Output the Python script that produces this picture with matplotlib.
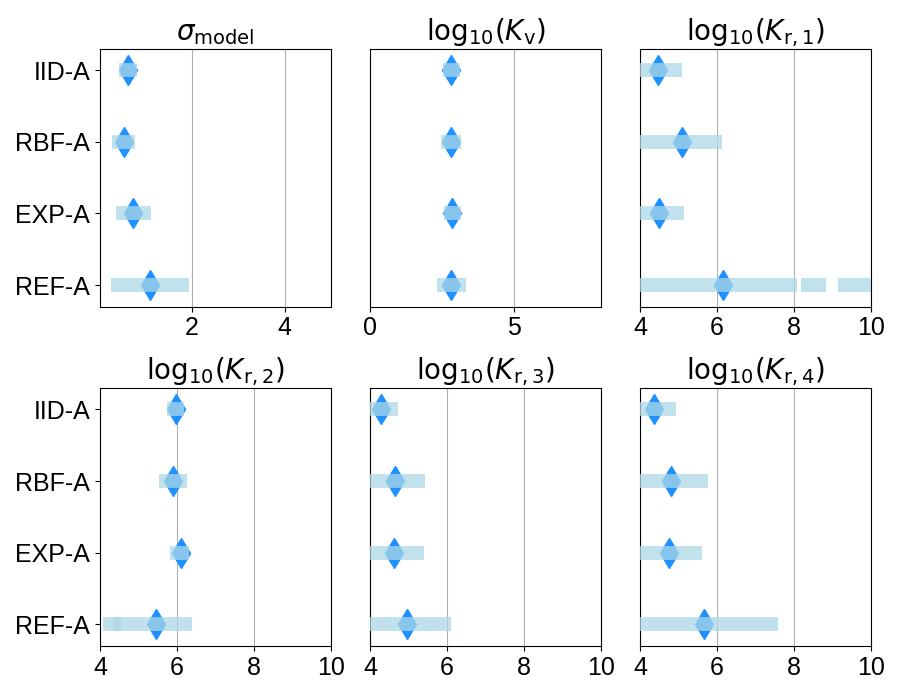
import matplotlib
matplotlib.use("Agg")
import matplotlib.pyplot as plt

# model labels, top to bottom
models = ["IID-A", "RBF-A", "EXP-A", "REF-A"]

titles = [
    r"$\sigma_\mathrm{model}$",
    r"$\mathrm{log}_{10}(K_\mathrm{v})$",
    r"$\mathrm{log}_{10}(K_{\mathrm{r},1})$",
    r"$\mathrm{log}_{10}(K_{\mathrm{r},2})$",
    r"$\mathrm{log}_{10}(K_{\mathrm{r},3})$",
    r"$\mathrm{log}_{10}(K_{\mathrm{r},4})$",
]

# medians (diamonds), one per model
med_sigma = [0.63, 0.54, 0.74, 1.10]
med_kv = [2.82, 2.81, 2.85, 2.82]
med_kr1 = [4.46, 5.10, 4.48, 6.14]
med_kr2 = [5.97, 5.91, 6.10, 5.46]
med_kr3 = [4.28, 4.64, 4.61, 4.97]
med_kr4 = [4.37, 4.81, 4.74, 5.67]

# credible intervals, possibly several segments per model
hdi_sigma = [[(0.43, 0.82)], [(0.29, 0.77)], [(0.37, 1.12)], [(0.26, 1.94)]]
hdi_kv = [[(2.54, 3.10)], [(2.47, 3.16)], [(2.57, 3.15)], [(2.33, 3.33)]]
hdi_kr1 = [[(3.6, 5.08)], [(3.4, 6.12)], [(3.6, 5.13)],
           [(3.0, 8.07), (8.18, 8.82), (9.14, 10.6)]]
hdi_kr2 = [[(5.75, 6.18)], [(5.53, 6.25)], [(5.82, 6.31)],
           [(4.08, 4.57), (4.34, 6.38)]]
hdi_kr3 = [[(3.8, 4.73)], [(3.7, 5.43)], [(3.7, 5.40)], [(3.5, 6.10)]]
hdi_kr4 = [[(3.8, 4.93)], [(3.7, 5.77)], [(3.7, 5.61)], [(3.5, 7.58)]]

medians = [med_sigma, med_kv, med_kr1, med_kr2, med_kr3, med_kr4]
hdis = [hdi_sigma, hdi_kv, hdi_kr1, hdi_kr2, hdi_kr3, hdi_kr4]
xlims = [(0.02, 5), (0, 8), (4, 10), (4, 10), (4, 10), (4, 10)]
xticks = [[2, 4], [0, 5], [4, 6, 8, 10], [4, 6, 8, 10], [4, 6, 8, 10], [4, 6, 8, 10]]

plt.rcParams["font.family"] = ["Liberation Sans", "DejaVu Sans"]
plt.rcParams["mathtext.fontset"] = "dejavusans"

fig, axes = plt.subplots(2, 3, figsize=(9, 6.93), dpi=100)
fig.subplots_adjust(left=0.111, right=0.968, top=0.930, bottom=0.068,
                    wspace=0.169, hspace=0.315)

ypos = list(range(len(models)))[::-1]

for i, ax in enumerate(axes.flat):
    for y, m, segs in zip(ypos, medians[i], hdis[i]):
        ax.plot([m], [y], marker="d", ms=15, color="dodgerblue",
                mec="dodgerblue", ls="none", zorder=2)
        for lo, hi in segs:
            ax.plot([lo, hi], [y, y], color="lightblue", alpha=0.75, lw=10,
                    solid_capstyle="butt", zorder=3)
    ax.set_xlim(*xlims[i])
    ax.set_xticks(xticks[i])
    ax.set_ylim(-0.3, 3.3)
    ax.grid(axis="x")
    ax.set_title(titles[i], fontsize=20)
    ax.tick_params(labelsize=18)
    if i % 3 == 0:
        ax.set_yticks(ypos)
        ax.set_yticklabels(models)
    else:
        ax.set_yticks([])

fig.savefig("out.png")
